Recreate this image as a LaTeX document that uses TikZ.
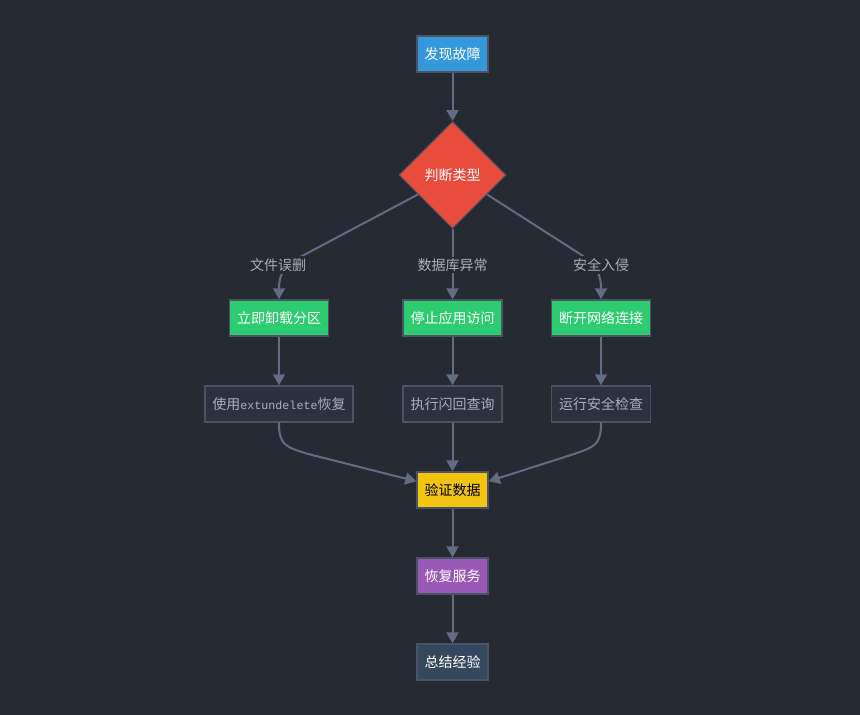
\documentclass[tikz,border=0pt]{standalone}
\usepackage{fontspec}
\setmainfont{Noto Sans CJK SC}
\newfontfamily\monoface{Liberation Mono}
\usetikzlibrary{shapes.geometric,arrows.meta,calc}
\definecolor{bg}{HTML}{262A33}
\definecolor{edgec}{HTML}{626C84}
\definecolor{bordc}{HTML}{4B5365}
\definecolor{lblc}{HTML}{A9AFBB}
\definecolor{cblue}{HTML}{3498DB}
\definecolor{cred}{HTML}{E74C3C}
\definecolor{cgreen}{HTML}{2ECC71}
\definecolor{cdark}{HTML}{2D313B}
\definecolor{cyellow}{HTML}{F1C40F}
\definecolor{cpurple}{HTML}{9B59B6}
\definecolor{cnavy}{HTML}{34495E}
\tikzset{
  box/.style={draw=bordc, line width=1.4pt, rectangle, minimum height=36pt, inner xsep=7.5pt, inner ysep=0pt, font=\fontsize{14pt}{16pt}\selectfont, text=white},
  darkbox/.style={box, fill=cdark, text=lblc},
  dec/.style={draw=bordc, line width=1pt, diamond, fill=cred, minimum width=107pt, minimum height=107pt, inner sep=0pt, font=\fontsize{14pt}{16pt}\selectfont, text=white},
  lbl/.style={fill=bg, text=lblc, inner sep=2pt, font=\fontsize{14pt}{16pt}\selectfont},
  conn/.style={draw=edgec, line width=2pt, -{Triangle[length=11pt,width=12pt]}},
}
\begin{document}
\begin{tikzpicture}[x=1pt,y=-1pt]
\path[use as bounding box, fill=bg] (0,0) rectangle (860,715);

\node[box, fill=cblue] (a) at (452.5,54) {发现故障};
\node[dec] (d) at (452.5,175) {判断类型};
\node[box, fill=cgreen] (b1) at (279,318) {立即卸载分区};
\node[box, fill=cgreen] (b2) at (452.5,318) {停止应用访问};
\node[box, fill=cgreen] (b3) at (601,318) {断开网络连接};
\node[darkbox] (c1) at (279,404) {使用{\monoface\fontsize{11.67pt}{14pt}\selectfont extundelete}恢复};
\node[darkbox] (c2) at (452.5,404) {执行闪回查询};
\node[darkbox] (c3) at (601,404) {运行安全检查};
\node[box, fill=cyellow, text=black] (v) at (452.5,490) {验证数据};
\node[box, fill=cpurple] (r) at (452.5,576) {恢复服务};
\node[box, fill=cnavy] (s) at (452.5,662) {总结经验};

\draw[conn] (a.south) -- (d.north);
\draw[conn] ($(d.west)!0.36!(d.south)$) -- (302,256) .. controls (286,265) and ($(b1.north)+(0,-28)$) .. (b1.north);
\draw[conn] (d.south) -- (b2.north);
\draw[conn] ($(d.east)!0.36!(d.south)$) -- (580,254) .. controls (594,263) and ($(b3.north)+(0,-28)$) .. (b3.north);

\node[lbl] (l1) at (278,265) {文件误删};
\node[lbl] (l2) at (452.5,265) {数据库异常};
\node[lbl] (l3) at (601,265) {安全入侵};

\draw[conn] (b1.south) -- (c1.north);
\draw[conn] (b2.south) -- (c2.north);
\draw[conn] (b3.south) -- (c3.north);

\draw[conn] (c1.south) .. controls ($(c1.south)+(0,22)$) and ($(c1.south)+(6,24)$) .. ($(c1.south)+(28,31)$) -- ($(v.north west)+(0,10)$);
\draw[conn] (c2.south) -- (v.north);
\draw[conn] (c3.south) .. controls ($(c3.south)+(0,22)$) and ($(c3.south)+(-6,24)$) .. ($(c3.south)+(-26,31)$) -- ($(v.north east)+(0,10)$);

\draw[conn] (v.south) -- (r.north);
\draw[conn] (r.south) -- (s.north);
\end{tikzpicture}
\end{document}
